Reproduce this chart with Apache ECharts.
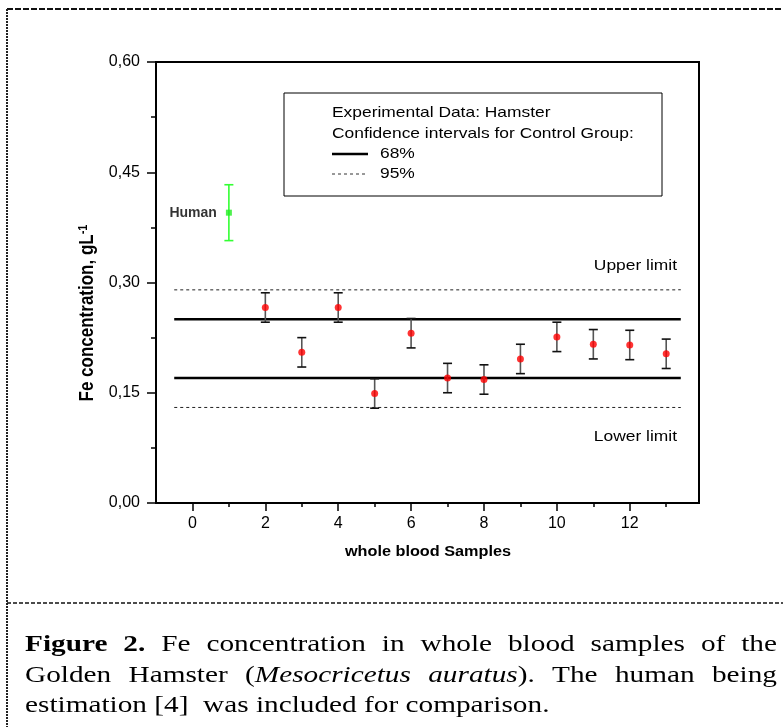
<!DOCTYPE html>
<html>
<head>
<meta charset="utf-8">
<script src="https://cdn.jsdelivr.net/npm/echarts@6/dist/echarts.min.js"></script>
<style>
html,body{margin:0;padding:0;background:#fff;}
#chart{width:783px;height:727px;}
</style>
</head>
<body>
<div id="chart"></div>
<script>
// ---- data ----
const sampleX    = [2, 3, 4, 5, 6, 7, 8, 9, 10, 11, 12, 13];
const sampleMean = [0.266, 0.205, 0.266, 0.149, 0.231, 0.170, 0.168, 0.196, 0.226, 0.216, 0.215, 0.203];
const sampleErr  = [0.020, 0.020, 0.020, 0.020, 0.020, 0.020, 0.020, 0.020, 0.020, 0.020, 0.020, 0.020];
const humanX     = [1];
const humanMean  = [0.395];
const humanErr   = [0.038];
const ci68       = [0.17, 0.25];   // solid lines
const ci95       = [0.13, 0.29];   // dashed lines
const limitSpan  = [-0.5, 13.4];
const xMajorTicks = [0, 2, 4, 6, 8, 10, 12];
const xMinorTicks = [1, 3, 5, 7, 9, 11, 13];
const legendLines = ['Experimental Data: Hamster', 'Confidence intervals for Control Group:', '68%', '95%'];
const captionLine1 = [[['Figure', 'b']], [['2.', 'b']], [['Fe', 'n']], [['concentration', 'n']], [['in', 'n']], [['whole', 'n']], [['blood', 'n']], [['samples', 'n']], [['of', 'n']], [['the', 'n']]];
const captionLine2 = [[['Golden', 'n']], [['Hamster', 'n']], [['(', 'n'], ['Mesocricetus', 'i']], [['auratus', 'i'], [').', 'n']], [['The', 'n']], [['human', 'n']], [['being', 'n']]];
const captionLine3 = 'estimation [4]  was included for comparison.';

const chart = echarts.init(document.getElementById('chart'), null, {renderer: 'canvas'});

const SANS = '"Liberation Sans", Arial, sans-serif';
const SERIF = '"Liberation Serif", "Times New Roman", serif';
const SX = 1.16;   // horizontal stretch of the original figure
const CSX = 1.22;  // caption stretch

function errData(xs, ms, es) {
  return xs.map((x, i) => [x, ms[i] - es[i], ms[i] + es[i]]);
}
function errBar(color, lineColor) {
  return function (params, api) {
    const x = api.value(0);
    const top = api.coord([x, api.value(2)]);
    const bot = api.coord([x, api.value(1)]);
    const hw = 4.5;
    return {
      type: 'group',
      children: [
        {type: 'line', shape: {x1: top[0], y1: top[1], x2: bot[0], y2: bot[1]}, style: {stroke: lineColor, lineWidth: 1.6}},
        {type: 'line', shape: {x1: top[0] - hw, y1: top[1], x2: top[0] + hw, y2: top[1]}, style: {stroke: color, lineWidth: 1.6}},
        {type: 'line', shape: {x1: bot[0] - hw, y1: bot[1], x2: bot[0] + hw, y2: bot[1]}, style: {stroke: color, lineWidth: 1.6}}
      ]
    };
  };
}

// caption justification
const mctx = document.createElement('canvas').getContext('2d');
function segFont(kind) {
  return (kind === 'i' ? 'italic ' : '') + (kind === 'b' ? 'bold ' : '') + '24px ' + SERIF;
}
function segWidth(seg) {
  mctx.font = segFont(seg[1]);
  return mctx.measureText(seg[0]).width * CSX;
}
function justify(words, x0, x1, y) {
  const widths = words.map(w => w.reduce((s, seg) => s + segWidth(seg), 0));
  const total = widths.reduce((a, b) => a + b, 0);
  const gap = (x1 - x0 - total) / (words.length - 1);
  const els = [];
  let x = x0;
  words.forEach((w, i) => {
    let sx = x;
    w.forEach(seg => {
      els.push({
        type: 'text', x: sx, y: y, scaleX: CSX, silent: true,
        style: {text: seg[0], x: 0, y: 0, font: segFont(seg[1]), fill: '#000', align: 'left', verticalAlign: 'middle'}
      });
      sx += segWidth(seg);
    });
    x += widths[i] + gap;
  });
  return els;
}

const graphics = [
  // outer dashed frame
  {type: 'line', shape: {x1: 7, y1: 9, x2: 783, y2: 9}, style: {stroke: '#111', lineWidth: 2, lineDash: [6, 2]}, silent: true},
  {type: 'line', shape: {x1: 7, y1: 9, x2: 7, y2: 727}, style: {stroke: '#222', lineWidth: 2, lineDash: [2, 1]}, silent: true},
  {type: 'line', shape: {x1: 7, y1: 603, x2: 783, y2: 603}, style: {stroke: '#111', lineWidth: 1.5, lineDash: [4, 2]}, silent: true},
  // legend box
  {type: 'rect', shape: {x: 284, y: 93, width: 378, height: 103}, style: {fill: '#fff', stroke: '#000', lineWidth: 1}, z: 10, silent: true},
  {type: 'text', x: 332, y: 113, scaleX: SX, z: 11, silent: true, style: {text: legendLines[0], font: '15px ' + SANS, fill: '#000', verticalAlign: 'middle'}},
  {type: 'text', x: 332, y: 134, scaleX: SX, z: 11, silent: true, style: {text: legendLines[1], font: '15px ' + SANS, fill: '#000', verticalAlign: 'middle'}},
  {type: 'line', z: 11, silent: true, shape: {x1: 332, y1: 154, x2: 368, y2: 154}, style: {stroke: '#000', lineWidth: 2.5}},
  {type: 'text', x: 380, y: 154, scaleX: SX, z: 11, silent: true, style: {text: legendLines[2], font: '15px ' + SANS, fill: '#000', verticalAlign: 'middle'}},
  {type: 'line', z: 11, silent: true, shape: {x1: 332, y1: 174, x2: 367, y2: 174}, style: {stroke: '#333', lineWidth: 1, lineDash: [3, 3]}},
  {type: 'text', x: 380, y: 174, scaleX: SX, z: 11, silent: true, style: {text: legendLines[3], font: '15px ' + SANS, fill: '#000', verticalAlign: 'middle'}},
  // limit annotations
  {type: 'text', x: 677, y: 266, scaleX: SX, silent: true, style: {text: 'Upper limit', font: '15px ' + SANS, fill: '#000', align: 'right', verticalAlign: 'middle'}},
  {type: 'text', x: 677, y: 437, scaleX: SX, silent: true, style: {text: 'Lower limit', font: '15px ' + SANS, fill: '#000', align: 'right', verticalAlign: 'middle'}},
  // axis names
  {type: 'text', x: 88, y: 313, rotation: Math.PI / 2, scaleY: SX, silent: true,
   style: {text: '{a|Fe concentration, gL}{s|-1}', align: 'center', verticalAlign: 'middle',
           rich: {a: {font: 'bold 17px ' + SANS, fill: '#000'}, s: {font: 'bold 11px ' + SANS, fill: '#000', verticalAlign: 'top', padding: [0, 0, 8, 0]}}}},
  {type: 'text', x: 428, y: 552, scaleX: SX, silent: true, style: {text: 'whole blood Samples', font: 'bold 14px ' + SANS, fill: '#000', align: 'center', verticalAlign: 'middle'}},
  // caption
  ...justify(captionLine1, 25, 777, 645),
  ...justify(captionLine2, 25, 777, 676),
  {type: 'text', x: 25, y: 706, scaleX: CSX, silent: true, style: {text: captionLine3, font: '24px ' + SERIF, fill: '#000', verticalAlign: 'middle'}}
];

const option = {
  animation: false,
  backgroundColor: '#fff',
  grid: {left: 156, top: 62, width: 543, height: 441, show: true, borderColor: '#000', borderWidth: 2, backgroundColor: 'transparent'},
  xAxis: [
    {
      type: 'value', min: -1, max: 13.9, position: 'bottom',
      splitLine: {show: false},
      axisLine: {show: true, onZero: false, lineStyle: {color: '#000', width: 2}},
      axisTick: {show: true, inside: false, length: 8, customValues: xMajorTicks, lineStyle: {color: '#000', width: 1.5}},
      axisLabel: {show: true, customValues: xMajorTicks, margin: 13, fontSize: 16, fontFamily: SANS, color: '#000', formatter: v => String(v)}
    },
    {
      type: 'value', min: -1, max: 13.9, position: 'bottom',
      splitLine: {show: false},
      axisLine: {show: false, onZero: false},
      axisTick: {show: true, inside: false, length: 4, customValues: xMinorTicks, lineStyle: {color: '#000', width: 1.5}},
      axisLabel: {show: false}
    }
  ],
  yAxis: {
    type: 'value', min: 0, max: 0.6, interval: 0.15,
    splitLine: {show: false},
    axisLine: {show: true, onZero: false, lineStyle: {color: '#000', width: 2}},
    axisTick: {show: true, inside: false, length: 9, lineStyle: {color: '#000', width: 1.5}},
    minorTick: {show: true, splitNumber: 2, length: 5, lineStyle: {color: '#000', width: 1.5}},
    axisLabel: {margin: 16, fontSize: 16, fontFamily: SANS, color: '#000', formatter: v => v.toFixed(2).replace('.', ',')}
  },
  graphic: graphics,
  series: [
    {type: 'line', name: '68% low', data: [[limitSpan[0], ci68[0]], [limitSpan[1], ci68[0]]], symbol: 'none', lineStyle: {color: '#000', width: 2.6}, z: 2, silent: true},
    {type: 'line', name: '68% high', data: [[limitSpan[0], ci68[1]], [limitSpan[1], ci68[1]]], symbol: 'none', lineStyle: {color: '#000', width: 2.6}, z: 2, silent: true},
    {type: 'line', name: '95% low', data: [[limitSpan[0], ci95[0]], [limitSpan[1], ci95[0]]], symbol: 'none', lineStyle: {color: '#222', width: 1, type: [3, 3]}, z: 2, silent: true},
    {type: 'line', name: '95% high', data: [[limitSpan[0], ci95[1]], [limitSpan[1], ci95[1]]], symbol: 'none', lineStyle: {color: '#222', width: 1, type: [3, 3]}, z: 2, silent: true},
    {type: 'custom', name: 'hamster err', data: errData(sampleX, sampleMean, sampleErr), renderItem: errBar('#111', '#555'), z: 3, silent: true},
    {type: 'custom', name: 'human err', data: errData(humanX, humanMean, humanErr), renderItem: errBar('#33ff33', '#33ff33'), z: 3, silent: true},
    {type: 'scatter', name: 'Hamster', data: sampleX.map((x, i) => [x, sampleMean[i]]), symbol: 'circle', symbolSize: 7, itemStyle: {color: '#ff0000'}, z: 4, silent: true},
    {type: 'scatter', name: 'Human', data: humanX.map((x, i) => [x, humanMean[i]]), symbol: 'rect', symbolSize: 6, itemStyle: {color: '#22ee22'}, z: 4, silent: true,
     label: {show: true, position: 'left', distance: 9, formatter: 'Human', fontSize: 14, fontWeight: 'bold', fontFamily: SANS, color: '#000'}}
  ]
};
chart.setOption(option);
</script>
</body>
</html>
